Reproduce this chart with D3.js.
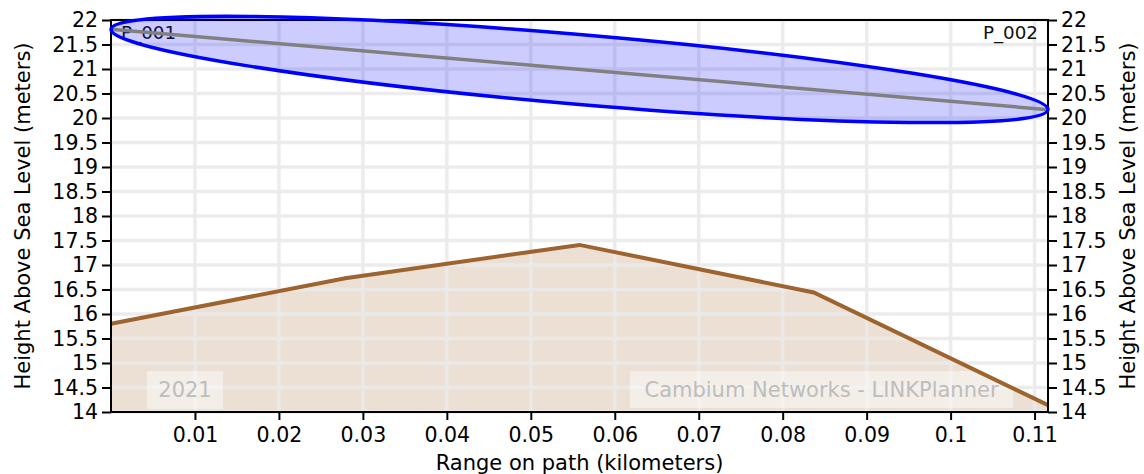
<!DOCTYPE html>
<html>
<head>
<meta charset="utf-8">
<script src="https://cdn.jsdelivr.net/npm/d3@7"></script>
<style>
  html, body { margin: 0; padding: 0; background: #fff; }
  svg { display: block; font-family: "DejaVu Sans", sans-serif; }
</style>
</head>
<body>
<svg id="chart" width="1144" height="474"></svg>
<script>
// ---- data ----
const profileRange = [0, 0.0279, 0.0558, 0.0837, 0.1116];
const profileHeight = [15.8, 16.73, 17.41, 16.44, 14.14];
const losRange = [0, 0.1116];
const losHeight = [21.81, 20.17];
const fresnelRadius = 0.714;
const xTicks = [0.01, 0.02, 0.03, 0.04, 0.05, 0.06, 0.07, 0.08, 0.09, 0.1, 0.11];
const yTicks = [14, 14.5, 15, 15.5, 16, 16.5, 17, 17.5, 18, 18.5, 19, 19.5, 20, 20.5, 21, 21.5, 22];
const siteLabels = ["P_001", "P_002"];
const watermarks = ["2021", "Cambium Networks - LINKPlanner"];

// ---- layout ----
const W = 1144, H = 474;
const m = { left: 111, right: 1048, top: 20, bottom: 412 };
const svg = d3.select("#chart");

const x = d3.scaleLinear().domain([0, 0.1116]).range([m.left, m.right]);
const y = d3.scaleLinear().domain([14, 22]).range([m.bottom, m.top]);

const terrainColor = "#9e6430";

// terrain fill
const pts = profileRange.map((r, i) => [r, profileHeight[i]]);
svg.append("path")
  .datum(pts)
  .attr("d", d3.area().x(d => x(d[0])).y0(y(14)).y1(d => y(d[1])))
  .attr("fill", "rgb(236,224,213)");

// grid
const grid = svg.append("g");
grid.selectAll("line.v").data(xTicks).join("line")
  .attr("x1", d => x(d)).attr("x2", d => x(d))
  .attr("y1", m.top).attr("y2", m.bottom)
  .attr("stroke", "#ebebeb").attr("stroke-width", 3.5).attr("opacity", 0.9);
grid.selectAll("line.h").data(yTicks).join("line")
  .attr("y1", d => y(d)).attr("y2", d => y(d))
  .attr("x1", m.left).attr("x2", m.right)
  .attr("stroke", "#ebebeb").attr("stroke-width", 3.5).attr("opacity", 0.9);

// watermarks
function watermark(txt, cx, cy, w, h) {
  svg.append("rect").attr("x", cx - w / 2).attr("y", cy - h / 2)
    .attr("width", w).attr("height", h)
    .attr("fill", "#ffffff").attr("opacity", 0.45);
  svg.append("text").attr("x", cx).attr("y", cy)
    .attr("text-anchor", "middle").attr("dominant-baseline", "central")
    .attr("font-size", 21).attr("fill", "#bdbdbd").text(txt);
}
watermark(watermarks[0], 185, 390, 76, 38);
watermark(watermarks[1], 821.5, 389.5, 383, 37);

// terrain line
svg.append("path")
  .datum(pts)
  .attr("d", d3.line().x(d => x(d[0])).y(d => y(d[1])))
  .attr("fill", "none").attr("stroke", terrainColor).attr("stroke-width", 4)
  .attr("stroke-linejoin", "miter");

// axes
const axisFont = 20.5;
const bottomAxis = svg.append("g").attr("transform", `translate(0,${m.bottom})`)
  .call(d3.axisBottom(x).tickValues(xTicks).tickFormat(d3.format("")).tickSize(8).tickPadding(7));
const leftAxis = svg.append("g").attr("transform", `translate(${m.left},0)`)
  .call(d3.axisLeft(y).tickValues(yTicks).tickFormat(d3.format("")).tickSize(9).tickPadding(4));
const rightAxis = svg.append("g").attr("transform", `translate(${m.right},0)`)
  .call(d3.axisRight(y).tickValues(yTicks).tickFormat(d3.format("")).tickSize(9).tickPadding(4));
[bottomAxis, leftAxis, rightAxis].forEach(g => {
  g.select(".domain").remove();
  g.selectAll(".tick line").attr("stroke", "#000").attr("stroke-width", 2);
  g.selectAll(".tick text").attr("fill", "#000").attr("font-size", axisFont)
    .attr("font-family", "DejaVu Sans, sans-serif");
});

// spines
svg.append("rect").attr("x", m.left).attr("y", m.top)
  .attr("width", m.right - m.left).attr("height", m.bottom - m.top)
  .attr("fill", "none").attr("stroke", "#000").attr("stroke-width", 2);

// site labels
svg.append("text").attr("x", 121).attr("y", 39).attr("font-size", 18.3)
  .attr("fill", "#111").text(siteLabels[0]);
svg.append("text").attr("x", 1038).attr("y", 39).attr("font-size", 18.3)
  .attr("text-anchor", "end").attr("fill", "#111").text(siteLabels[1]);

// fresnel ellipse
const x0 = x(losRange[0]), y0 = y(losHeight[0]);
const x1 = x(losRange[1]), y1 = y(losHeight[1]);
const cx = (x0 + x1) / 2, cy = (y0 + y1) / 2;
const ang = Math.atan2(y1 - y0, x1 - x0);
const rx = Math.hypot(x1 - x0, y1 - y0) / 2;
const ry = (y(0) - y(fresnelRadius)) * Math.cos(ang);
svg.append("ellipse")
  .attr("cx", cx).attr("cy", cy).attr("rx", rx).attr("ry", ry)
  .attr("transform", `rotate(${ang * 180 / Math.PI},${cx},${cy})`)
  .attr("fill", "rgba(0,0,255,0.2)").attr("stroke", "none");

// line of sight
svg.append("path")
  .datum(losRange.map((r, i) => [r, losHeight[i]]))
  .attr("d", d3.line().x(d => x(d[0])).y(d => y(d[1])))
  .attr("fill", "none").attr("stroke", "#808080").attr("stroke-width", 3.5);

svg.append("ellipse")
  .attr("cx", cx).attr("cy", cy).attr("rx", rx).attr("ry", ry)
  .attr("transform", `rotate(${ang * 180 / Math.PI},${cx},${cy})`)
  .attr("fill", "none").attr("stroke", "#0000ff").attr("stroke-width", 3.5);

// axis titles
const titleFont = 21;
svg.append("text").attr("x", (m.left + m.right) / 2).attr("y", 470)
  .attr("text-anchor", "middle").attr("font-size", titleFont).attr("fill", "#000")
  .text("Range on path (kilometers)");
svg.append("text")
  .attr("transform", `translate(30,${(m.top + m.bottom) / 2}) rotate(-90)`)
  .attr("text-anchor", "middle").attr("font-size", titleFont).attr("fill", "#000")
  .text("Height Above Sea Level (meters)");
svg.append("text")
  .attr("transform", `translate(1120,${(m.top + m.bottom) / 2}) rotate(-90)`)
  .attr("text-anchor", "middle").attr("font-size", titleFont).attr("fill", "#000")
  .attr("dy", "0.72em")
  .text("Height Above Sea Level (meters)");
</script>
</body>
</html>
